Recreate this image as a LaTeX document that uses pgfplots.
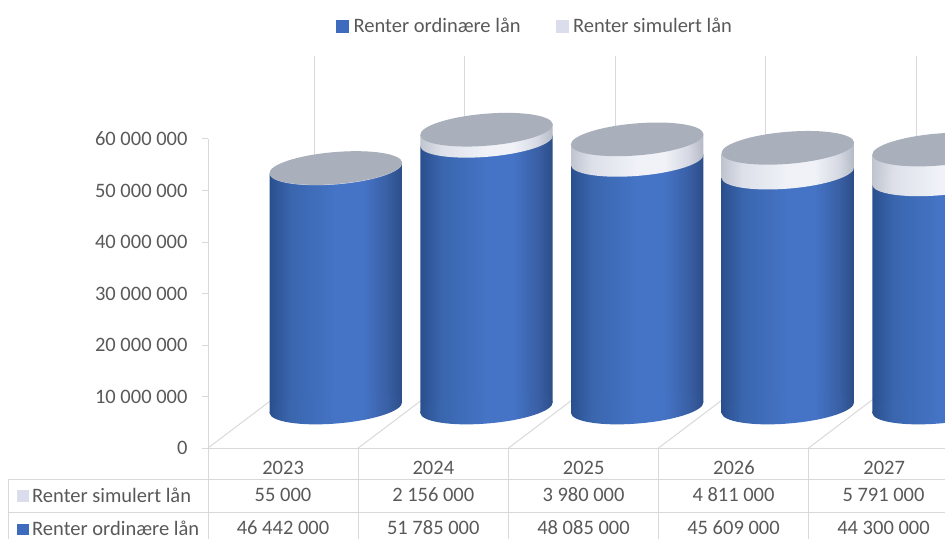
\documentclass[border=0pt]{standalone}
\usepackage{pgfplots}
\pgfplotsset{compat=1.18}
\usepackage{fontspec}
\setmainfont{Carlito}
\usetikzlibrary{shapes.geometric}

\definecolor{txt}{HTML}{595959}
\definecolor{linegray}{HTML}{D9D9D9}
\definecolor{keyblue}{HTML}{3F6BBF}
\definecolor{keylight}{HTML}{DBDDEC}
\definecolor{topgray}{HTML}{A9B0BC}
\definecolor{bl0}{HTML}{2A4F8E}
\definecolor{bl1}{HTML}{3A66AE}
\definecolor{bl2}{HTML}{4574C6}
\definecolor{bl25}{HTML}{3A60A6}
\definecolor{bl3}{HTML}{2C4D88}
\definecolor{lt0}{HTML}{BFC4CF}
\definecolor{lt1}{HTML}{DDE0E9}
\definecolor{lt2}{HTML}{F0F2F8}
\definecolor{lt25}{HTML}{D6D9E3}
\definecolor{lt3}{HTML}{B4B9C5}

\pgfdeclarehorizontalshading{cylblue}{100bp}{color(0bp)=(bl0); color(25bp)=(bl0); color(33bp)=(bl1); color(50bp)=(bl2); color(60bp)=(bl2); color(69bp)=(bl25); color(75bp)=(bl3); color(100bp)=(bl3)}
\pgfdeclarehorizontalshading{cyllight}{100bp}{color(0bp)=(lt0); color(25bp)=(lt0); color(33bp)=(lt1); color(50bp)=(lt2); color(60bp)=(lt2); color(69bp)=(lt25); color(75bp)=(lt3); color(100bp)=(lt3)}

\pgfplotsset{
  ell/.style={draw=none, mark=none, nodes near coords={}, nodes near coords align=center,
    every node near coord/.append style={shape=ellipse, inner sep=0pt, draw=none,
      minimum width=133pt, minimum height=32pt, rotate=4.7, #1}},
}

% one cylinder: x position, ordinary, simulated (tilt of the rim = 1068000)
\newcommand{\cyl}[3]{%
  \addplot[ell={shade, shading=cylblue}] coordinates {(#1,0)};
  \addplot[draw=none, mark=none, shade, shading=cylblue] coordinates {
    (\the\numexpr#1-439\relax,-1068000) (\the\numexpr#1+439\relax,1068000)
    (\the\numexpr#1+439\relax,\the\numexpr#2+1068000\relax) (\the\numexpr#1-439\relax,\the\numexpr#2-1068000\relax)} -- cycle;
  \addplot[ell={shade, shading=cyllight}] coordinates {(#1,#2)};
  \addplot[draw=none, mark=none, shade, shading=cyllight] coordinates {
    (\the\numexpr#1-439\relax,\the\numexpr#2-1068000\relax) (\the\numexpr#1+439\relax,\the\numexpr#2+1068000\relax)
    (\the\numexpr#1+439\relax,\the\numexpr#2+#3+1068000\relax) (\the\numexpr#1-439\relax,\the\numexpr#2+#3-1068000\relax)} -- cycle;
  \addplot[ell={fill=topgray}] coordinates {(#1,\the\numexpr#2+#3\relax)};
}

\newcommand{\fs}{\fontsize{20.5}{24}\selectfont\color{txt}}

\begin{document}
\begin{tikzpicture}[x=1pt,y=1pt]
  \path[clip, use as bounding box] (0,0) rectangle (945,539);

  % back wall lines
  \begin{axis}[
      name=back, scale only axis, anchor=south west, at={(314pt,171pt)},
      width=739pt, height=312pt,
      xmin=-500, xmax=4405, ymin=0, ymax=1,
      xtick={-500,500,1500,2500,3500}, xticklabels={}, ytick=\empty,
      tick style={draw=none}, axis line style={draw=none},
      xmajorgrids, grid style={linegray, line width=1pt},
    ]
  \end{axis}

  % floor lines and data table grid
  \foreach \x in {208,358.25,508.5,658.5,808.5} {
    \draw[linegray, line width=1pt] (\x,91) -- ++(106,80);
    \draw[linegray, line width=1pt] (\x,91) -- (\x,0);
  }
  \draw[linegray, line width=1pt] (8,60) -- (945,60);
  \draw[linegray, line width=1pt] (8,27) -- (945,27);
  \draw[linegray, line width=1pt] (8,60) -- (8,0);

  % value axis, year labels, legend
  \begin{axis}[
      name=main, scale only axis, anchor=south west, at={(208pt,91pt)},
      width=737pt, height=309pt,
      xmin=-500, xmax=4405, ymin=0, ymax=60000000,
      axis lines*=left, axis line style={linegray, line width=1pt},
      xtick={0,1000,2000,3000,4000},
      xticklabels={2023,2024,2025,2026,2027},
      x tick label style={font=\fs, text height=13pt, text depth=0pt, anchor=north, yshift=-4pt},
      xtick style={draw=none},
      ytick={0,10000000,20000000,30000000,40000000,50000000,60000000},
      scaled y ticks=false,
      y tick label style={font=\fs, xshift=-11pt,
        /pgf/number format/fixed, /pgf/number format/assume math mode=true,
        /pgf/number format/1000 sep={\hspace{0.226em}}},
      ytick style={linegray, line width=1pt}, tick align=outside, major tick length=6pt,
      legend style={at={(0.1697,1.366)}, anchor=west, draw=none, fill=none, font=\fs,
        legend columns=2, /tikz/every even column/.append style={column sep=33pt},
        /tikz/every odd column/.append style={column sep=3pt}},
      legend image code/.code={\fill[#1] (0pt,-6pt) rectangle (12pt,6pt);},
    ]
    \addlegendimage{keyblue}
    \addlegendentry{Renter ordinære lån}
    \addlegendimage{keylight}
    \addlegendentry{Renter simulert lån}
  \end{axis}

  % cylinders, half way back on the floor
  \begin{axis}[
      scale only axis, anchor=south west, at={(260.5pt,131.5pt)},
      width=739pt, height=309pt, clip=false, hide axis,
      xmin=-500, xmax=4405, ymin=0, ymax=60000000,
    ]
    \cyl{0}{46442000}{55000}
    \cyl{1000}{51785000}{2156000}
    \cyl{2000}{48085000}{3980000}
    \cyl{3000}{45609000}{4811000}
    \cyl{4000}{44300000}{5791000}
  \end{axis}

  % data table
  \fill[keylight] (17,37) rectangle (29,49);
  \fill[keyblue] (17,4) rectangle (29,15);
  \node[anchor=west, inner sep=0pt, font=\fs] at (32,44) {Renter simulert lån};
  \node[anchor=west, inner sep=0pt, font=\fs] at (32,11) {Renter ordinære lån};
  \foreach \x/\s/\o in {283/55 000/46 442 000, 433.25/2 156 000/51 785 000, 583.5/3 980 000/48 085 000,
                        733.5/4 811 000/45 609 000, 883.5/5 791 000/44 300 000} {
    \node[font=\fs] at (\x,44) {\s};
    \node[font=\fs] at (\x,11) {\o};
  }
\end{tikzpicture}
\end{document}
